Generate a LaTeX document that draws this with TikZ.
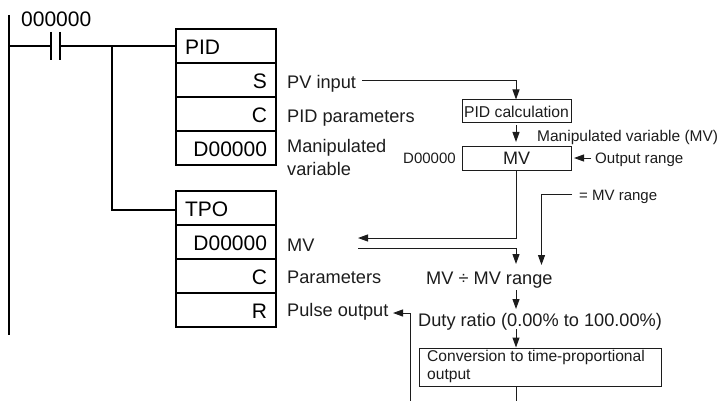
\documentclass[tikz,border=0pt]{standalone}
\usepackage{fontspec}
\setmainfont{Liberation Sans}
\usetikzlibrary{arrows.meta,positioning}
\definecolor{ink}{HTML}{1C1C1C}
\tikzset{
 rail/.style={draw=black,line width=1.5pt},
 flow/.style={draw=ink,line width=1pt},
 flowa/.style={flow,-{Triangle[length=10pt,width=7pt]}},
 headcell/.style={draw=black,line width=1.5pt,minimum width=100pt,minimum height=34pt,text width=82pt,inner sep=0pt,align=left,font=\fontsize{21}{21}\selectfont,text height=17pt,text depth=0pt},
 opcell/.style={headcell,align=right},
 big/.style={anchor=base west,inner sep=0pt,text=ink,font=\fontsize{18.2}{18.2}\selectfont},
 mid/.style={anchor=base west,inner sep=0pt,text=ink,font=\fontsize{15.5}{15.5}\selectfont},
 ladlab/.style={anchor=base west,inner sep=0pt,text=black,font=\fontsize{21}{21}\selectfont},
 fbox/.style={draw=ink,line width=1pt,inner sep=0pt},
}
\begin{document}
\begin{tikzpicture}[x=1pt,y=-1pt]
\useasboundingbox (0,0) rectangle (717,401);
% ladder
\coordinate (railtop) at (9,15);
\coordinate (railbot) at (9,335);
\coordinate (rung) at (9,46);
\coordinate (cl) at (51,46);
\coordinate (cr) at (60,46);
\coordinate (cltop) at (51,32);
\coordinate (clbot) at (51,60);
\coordinate (crtop) at (60,32);
\coordinate (crbot) at (60,60);
\coordinate (bt) at (112,46);
\coordinate (bb) at (112,210);
\node[ladlab] (contact) at (21,27) {000000};
% PID block
\node[headcell] (pid) at (226,46) {PID};
\node[opcell] (pids) at (226,80) {S};
\node[opcell] (pidc) at (226,114) {C};
\node[opcell] (pidd) at (226,148) {D00000};
% TPO block
\node[headcell] (tpo) at (226,208) {TPO};
\node[opcell] (tpod) at (226,242) {D00000};
\node[opcell] (tpoc) at (226,276) {C};
\node[opcell] (tpor) at (226,310) {R};
\draw[rail] (railtop) -- (railbot);
\draw[rail] (rung) -- (cl) (cltop) -- (clbot) (crtop) -- (crbot) (cr) -- (bt) -- (pid.west);
\draw[rail] (bt) -- (bb) -- (bb -| tpo.west);
% side labels
\node[big] (pv) at (287,89) {PV input};
\node[big] (pp) at (287,122) {PID parameters};
\node[big] (mv1) at (287,153) {Manipulated};
\node[big] (mv2) at (287,175) {variable};
\node[big] (tmv) at (287,251) {MV};
\node[big] (tpar) at (287,283) {Parameters};
\node[big] (tpul) at (287,316) {Pulse output};
% right flow
\node[fbox,minimum width=109pt,minimum height=23pt,font=\fontsize{15.7}{15.7}\selectfont,text=ink] (calc) at (516.5,111.5) {PID calculation};
\node[fbox,minimum width=109pt,minimum height=24pt,font=\fontsize{18}{18}\selectfont,text=ink] (mvb) at (516.5,158) {MV};
\node[mid] (mvl) at (537,141) {Manipulated variable (MV)};
\node[mid,font=\fontsize{15}{15}\selectfont] (d0) at (403,164) {D00000};
\node[mid,font=\fontsize{15.1}{15.1}\selectfont] (orange) at (595,164) {Output range};
\node[mid,font=\fontsize{15}{15}\selectfont] (mvr) at (579,200) {= MV range};
\node[big] (div) at (426,284) {MV ÷ MV range};
\node[big] (duty) at (418,326) {Duty ratio (0.00\% to 100.00\%)};
\node[fbox,minimum width=242pt,minimum height=38pt] (conv) at (540,367) {};
\node[mid,font=\fontsize{15.6}{15.6}\selectfont] (c1) at (427,361) {Conversion to time-proportional};
\node[mid,font=\fontsize{15.6}{15.6}\selectfont] (c2) at (427,379) {output};
% connector ends
\coordinate (pvs) at (362,81);
\coordinate (pvk) at (516,81);
\coordinate (back) at (358,238);
\coordinate (mvk) at (516,238);
\coordinate (lin) at (358,248);
\coordinate (link) at (516,248);
\coordinate (linend) at (516,264);
\coordinate (rs) at (572,194);
\coordinate (rk) at (541.5,194);
\coordinate (re) at (541.5,265);
\coordinate (os) at (591,158);
\coordinate (oe) at (574,158);
\coordinate (a1s) at (516,290);
\coordinate (a1e) at (516,309);
\coordinate (a2s) at (516,329);
\coordinate (cs) at (516,386);
\coordinate (ce) at (516,401);
\coordinate (ps) at (410,401);
\coordinate (pk) at (410,313);
\coordinate (pe) at (393,313);
\draw[flowa] (pvs) -- (pvk) -- (calc.north -| pvk);
\draw[flowa] (calc.south -| pvk) ++(0,2) -- (516,142);
\draw[flowa] (mvb.south -| mvk) -- (mvk) -- (back);
\draw[flowa] (lin) -- (link) -- (linend);
\draw[flowa] (rs) -- (rk) -- (re);
\draw[flowa] (os) -- (oe);
\draw[flowa] (a1s) -- (a1e);
\draw[flowa] (a2s) -- (conv.north -| a2s);
\draw[flow] (cs) -- (ce);
\draw[flowa] (ps) -- (pk) -- (pe);
\end{tikzpicture}
\end{document}
